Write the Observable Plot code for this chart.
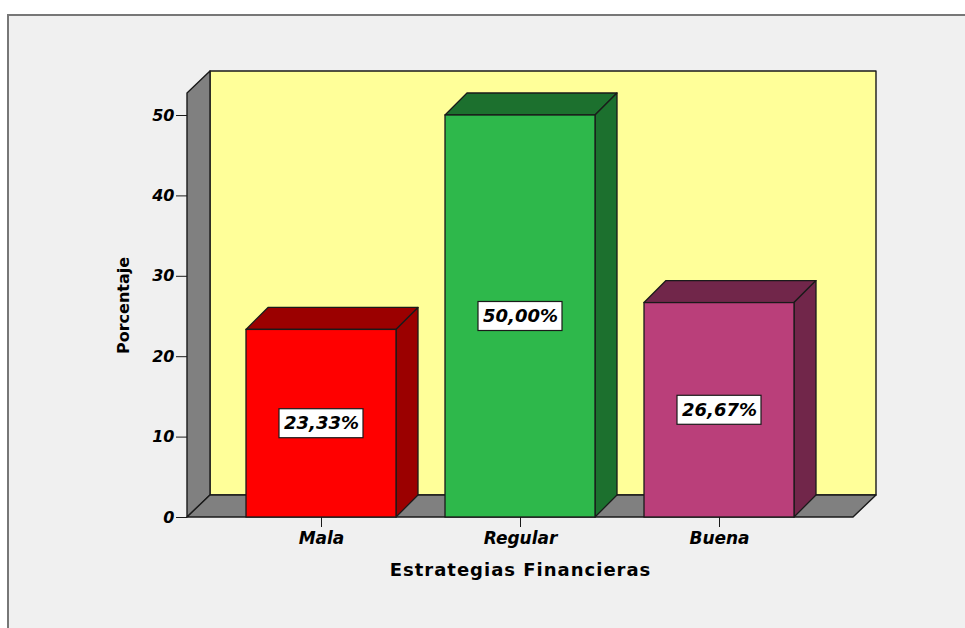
<!DOCTYPE html>
<html>
<head>
<meta charset="utf-8">
<script src="https://cdn.jsdelivr.net/npm/d3@7"></script>
<script src="https://cdn.jsdelivr.net/npm/@observablehq/plot@0.6"></script>
<style>
  html, body { margin: 0; padding: 0; background: #ffffff; width: 965px; height: 628px; overflow: hidden; }
  #frame { position: absolute; left: 7px; top: 14px; width: 980px; height: 640px; background: #f0f0f0;
           border-top: 2px solid #777; border-left: 2px solid #777; }
  #chart { position: absolute; left: 0; top: 0; }
  #chart svg { overflow: visible; }
  g[aria-label^="y-axis"] text { font-family: "DejaVu Sans", sans-serif; font-size: 16px; font-weight: bold; font-style: italic; fill: #000; }
  g[aria-label^="x-axis"] text { font-family: "DejaVu Sans", sans-serif; font-size: 17px; font-weight: bold; font-style: italic; fill: #000; }
</style>
</head>
<body>
<div id="frame"></div>
<div id="chart"></div>
<script>
// ---- data ----
const categories = ["Mala", "Regular", "Buena"];
const percentages = [23.33, 50.00, 26.67];
const yTicks = [0, 10, 20, 30, 40, 50];
const axisTitleX = "Estrategias Financieras";
const axisTitleY = "Porcentaje";

// ---- styles / layout ----
const barColors = ["#ff0000", "#2eb84b", "#ba3f7a"];
const W = 965, H = 628;
const ML = 187, MR = 112, MT = 93, MB = 111;
const WALL_DX = 23, WALL_DY = 22, BAR_D = 22;
const EDGE = "#1a1a1a";

const esLocale = d3.formatLocale({decimal: ",", thousands: ".", grouping: [3], currency: ["", "€"]});
const fmt = esLocale.format(".2f");
const data = categories.map((c, i) => ({cat: c, pct: percentages[i], label: fmt(percentages[i]) + "%"}));

function findDims(args) {
  return args.find(a => a && typeof a === "object" && "marginLeft" in a && "width" in a);
}
function findScales(args) {
  return args.find(a => a && typeof a === "object" && typeof a.x === "function" && typeof a.y === "function");
}

// back wall, left wall, floor (from the frame dimensions)
function walls(...args) {
  const d = findDims(args);
  const x0 = d.marginLeft, x1 = d.width - d.marginRight, y0 = d.marginTop, y1 = d.height - d.marginBottom;
  const g = d3.create("svg:g").attr("stroke", EDGE).attr("stroke-width", 1.4).attr("stroke-linejoin", "round");
  g.append("rect").attr("x", x0 + WALL_DX).attr("y", y0 - WALL_DY)
    .attr("width", x1 - x0).attr("height", y1 - y0).attr("fill", "#ffff99");
  g.append("polygon").attr("points", [[x0, y0], [x0 + WALL_DX, y0 - WALL_DY], [x0 + WALL_DX, y1 - WALL_DY], [x0, y1]].join(" "))
    .attr("fill", "#808080");
  g.append("polygon").attr("points", [[x0, y1], [x0 + WALL_DX, y1 - WALL_DY], [x1 + WALL_DX, y1 - WALL_DY], [x1, y1]].join(" "))
    .attr("fill", "#808080");
  return g.node();
}

// top and side faces of the 3D bars, positioned through Plot's scales
function barDepth(...args) {
  const s = findScales(args);
  const sx = s.x, sy = s.y;
  const bw = typeof sx.bandwidth === "function" ? sx.bandwidth() : (s.scales && s.scales.x ? s.scales.x.bandwidth : sx.bandwidth);
  const g = d3.create("svg:g").attr("stroke", EDGE).attr("stroke-width", 1.3).attr("stroke-linejoin", "round");
  data.forEach((row, i) => {
    const base = s.color ? s.color(row.cat) : barColors[i];
    const dark = d3.color(base).darker(1.4).formatHex();
    const xa = sx(row.cat), xb = xa + bw, yb = sy(0), yt = sy(row.pct);
    g.append("polygon").attr("fill", dark)
      .attr("points", [[xa, yt], [xa + BAR_D, yt - BAR_D], [xb + BAR_D, yt - BAR_D], [xb, yt]].join(" "));
    g.append("polygon").attr("fill", dark)
      .attr("points", [[xb, yt], [xb + BAR_D, yt - BAR_D], [xb + BAR_D, yb - BAR_D], [xb, yb]].join(" "));
  });
  return g.node();
}

const font = {fontFamily: "DejaVu Sans", fontWeight: "bold", fill: "#000"};

const plot = Plot.plot({
  width: W, height: H,
  marginLeft: ML, marginRight: MR, marginTop: MT, marginBottom: MB,
  style: {background: "transparent", color: "#1a1a1a", overflow: "visible"},
  x: {domain: categories, range: [ML, W - MR], paddingInner: 0.248, paddingOuter: 0.293,
      tickSize: 10, tickPadding: 4, label: null},
  y: {domain: [0, 50], range: [H - MB, 115], ticks: yTicks, tickSize: 11, tickPadding: 2, label: null},
  color: {domain: categories, range: barColors},
  marks: [
    walls,
    barDepth,
    Plot.barY(data, {x: "cat", y: "pct", fill: "cat", stroke: EDGE, strokeWidth: 1.3}),
    Plot.barY(data, {x: "cat", y1: d => d.pct / 2, y2: d => d.pct / 2,
      insetLeft: 33, insetRight: 33, insetTop: -14.5, insetBottom: -14.5,
      fill: "white", stroke: EDGE, strokeWidth: 1.2}),
    Plot.text(data, {x: "cat", y: d => d.pct / 2, text: "label", fontSize: 18, fontStyle: "italic", ...font}),
    Plot.text([axisTitleX], {frameAnchor: "bottom", dy: 53, text: d => d, fontSize: 18,
      textAnchor: "middle", lineAnchor: "middle", ...font}),
    Plot.text([axisTitleY], {frameAnchor: "left", dx: -64, rotate: -90, text: d => d, fontSize: 16,
      textAnchor: "middle", lineAnchor: "middle", ...font})
  ]
});

d3.select(plot).selectAll("text").filter(function() { return this.textContent === axisTitleX; })
  .attr("letter-spacing", 1);

document.getElementById("chart").appendChild(plot);
</script>
</body>
</html>
